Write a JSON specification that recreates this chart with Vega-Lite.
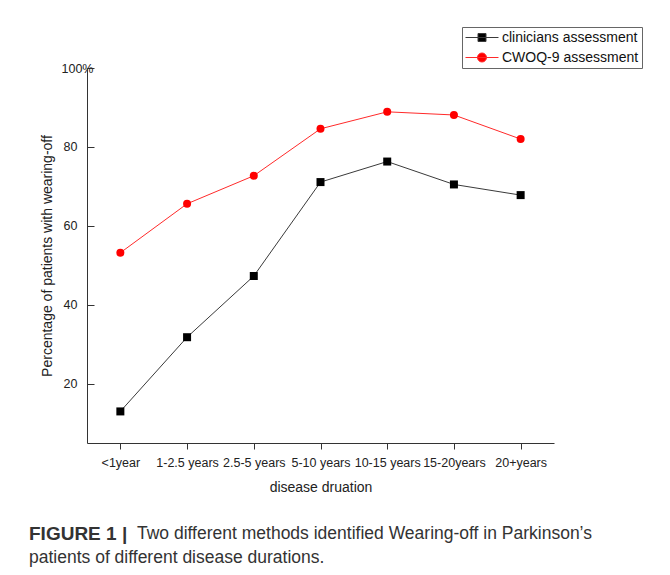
{
  "$schema": "https://vega.github.io/schema/vega-lite/v6.json",
  "padding": {"left": 29, "top": 26, "right": 5, "bottom": 5},
  "background": "white",
  "config": {
    "font": "Liberation Sans",
    "view": {"stroke": null},
    "axis": {"grid": false, "domainColor": "#333", "tickColor": "#333", "domainWidth": 1, "tickWidth": 1, "labelColor": "#222", "titleColor": "#222", "titleFontWeight": "normal", "labelFontSize": 12.5, "titleFontSize": 14, "labelFont": "Liberation Sans", "titleFont": "Liberation Sans"},
    "concat": {"spacing": 0}
  },
  "title": {
    "text": "patients of different disease durations.",
    "orient": "bottom", "anchor": "start", "frame": "group", "offset": 0, "dx": -58, "dy": 5,
    "fontSize": 17.5, "fontWeight": "normal", "color": "#333", "font": "Liberation Sans"
  },
  "vconcat": [
    {
      "title": {
        "text": "Two different methods identified Wearing-off in Parkinson\u2019s",
        "orient": "bottom", "anchor": "start", "frame": "group", "offset": 0, "dx": 50, "dy": -19,
        "fontSize": 17.5, "fontWeight": "normal", "color": "#333", "font": "Liberation Sans"
      },
      "vconcat": [
        {
          "width": 467,
          "height": 375,
          "title": {"text": "FIGURE 1 |", "orient": "bottom", "anchor": "start", "frame": "group", "dx": -58, "offset": 30, "fontSize": 19, "fontWeight": "bold", "color": "#333", "font": "Liberation Sans"},
          "data": {"values": [
            {"duration": "<1year", "method": "clinicians assessment", "pct": 13.0},
            {"duration": "1-2.5 years", "method": "clinicians assessment", "pct": 31.8},
            {"duration": "2.5-5 years", "method": "clinicians assessment", "pct": 47.3},
            {"duration": "5-10 years", "method": "clinicians assessment", "pct": 71.1},
            {"duration": "10-15 years", "method": "clinicians assessment", "pct": 76.3},
            {"duration": "15-20years", "method": "clinicians assessment", "pct": 70.5},
            {"duration": "20+years", "method": "clinicians assessment", "pct": 67.8},
            {"duration": "<1year", "method": "CWOQ-9 assessment", "pct": 53.2},
            {"duration": "1-2.5 years", "method": "CWOQ-9 assessment", "pct": 65.6},
            {"duration": "2.5-5 years", "method": "CWOQ-9 assessment", "pct": 72.7},
            {"duration": "5-10 years", "method": "CWOQ-9 assessment", "pct": 84.6},
            {"duration": "10-15 years", "method": "CWOQ-9 assessment", "pct": 88.9},
            {"duration": "15-20years", "method": "CWOQ-9 assessment", "pct": 88.1},
            {"duration": "20+years", "method": "CWOQ-9 assessment", "pct": 82.0}
          ]},
          "encoding": {
            "x": {
              "field": "duration", "type": "nominal",
              "sort": ["<1year", "1-2.5 years", "2.5-5 years", "5-10 years", "10-15 years", "15-20years", "20+years"],
              "scale": {"type": "point", "padding": 0.5},
              "axis": {"title": "disease druation", "labelAngle": 0, "tickSize": 6, "labelPadding": 7, "titlePadding": 12}
            },
            "y": {
              "field": "pct", "type": "quantitative",
              "scale": {"domain": [5, 100], "nice": false, "zero": false},
              "axis": {
                "title": "Percentage of patients with wearing-off",
                "values": [20, 40, 60, 80, 100],
                "tickSize": -7, "labelPadding": 17, "titlePadding": 7,
                "labelExpr": "datum.value == 100 ? '100%' : datum.label",
                "labelAlign": {"condition": {"test": "datum.value == 100", "value": "center"}, "value": "right"}
              }
            }
          },
          "layer": [
            {
              "mark": {"type": "line", "strokeWidth": 1},
              "encoding": {
                "detail": {"field": "method", "type": "nominal"},
                "stroke": {"condition": {"test": "datum.method === 'CWOQ-9 assessment'", "value": "#ff2a2a"}, "value": "#3a3a3a"}
              }
            },
            {
              "mark": {"type": "point", "filled": true, "size": 64, "opacity": 1},
              "encoding": {
                "shape": {"condition": {"test": "datum.method === 'clinicians assessment'", "value": "square"}, "value": "circle"},
                "fill": {
                  "field": "method", "type": "nominal",
                  "scale": {"domain": ["clinicians assessment", "CWOQ-9 assessment"], "range": ["#000000", "#ff0000"]},
                  "legend": {
                    "title": null, "orient": "none", "legendX": 375, "legendY": -41,
                    "symbolSize": 196, "labelFontSize": 14, "labelColor": "#111", "labelFont": "Liberation Sans",
                    "padding": 3, "rowPadding": 5, "labelOffset": 22, "strokeColor": "#666",
                    "symbolStrokeWidth": 1,
                    "encoding": {
                      "symbols": {
                        "shape": {"condition": {"test": "datum.value === 'CWOQ-9 assessment'", "value": "M-1,0H3.714M0.714,0A0.643,0.643 0 1,1 2,0A0.643,0.643 0 1,1 0.714,0Z"}, "value": "M-1,0H3.714M0.786,-0.571H1.929V0.571H0.786Z"},
                        "fill": {"condition": {"test": "datum.value === 'CWOQ-9 assessment'", "value": "#ff0000"}, "value": "#000000"},
                        "stroke": {"condition": {"test": "datum.value === 'CWOQ-9 assessment'", "value": "#ff2a2a"}, "value": "#3a3a3a"},
                        "strokeWidth": {"value": 1},
                        "opacity": {"value": 1}
                      }
                    }
                  }
                }
              }
            }
          ]
        }
      ]
    }
  ]
}
